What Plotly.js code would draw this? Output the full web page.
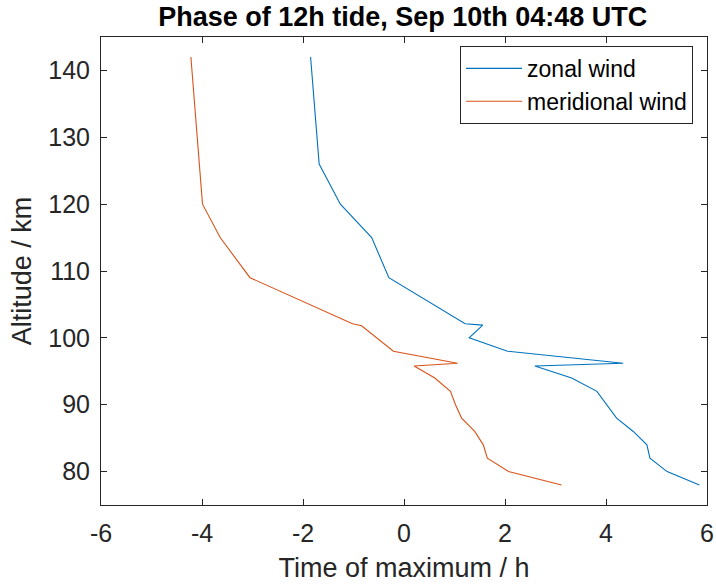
<!DOCTYPE html>
<html>
<head>
<meta charset="utf-8">
<script src="https://cdn.plot.ly/plotly-3.0.1.min.js"></script>
<style>html,body{margin:0;padding:0;background:#fff;}#chart{width:716px;height:584px;}</style>
</head>
<body>
<div id="chart"></div>
<script>
var zonalAlt   = [142, 126, 120, 115, 109, 102.1, 101.9, 100, 98, 96.2, 95.8, 94, 92, 90, 88, 86, 84, 82, 80, 78];
var zonalPhase = [-1.85, -1.68, -1.26, -0.64, -0.30, 1.21, 1.56, 1.29, 2.05, 4.34, 2.59, 3.32, 3.82, 4.02, 4.21, 4.54, 4.81, 4.87, 5.21, 5.85];
var meridAlt   = [142, 126, 120, 115, 109, 102.1, 101.8, 98, 96.2, 95.8, 94, 92, 90, 88, 86, 84, 82, 80, 78];
var meridPhase = [-4.22, -4.06, -3.99, -3.64, -3.05, -1.02, -0.84, -0.21, 1.06, 0.20, 0.61, 0.92, 1.02, 1.14, 1.40, 1.57, 1.65, 2.07, 3.12];
var xTicks = [-6, -4, -2, 0, 2, 4, 6];
var yTicks = [80, 90, 100, 110, 120, 130, 140];

var font = 'Liberation Sans, Arial, Helvetica, sans-serif';
var traces = [
  {x: zonalPhase, y: zonalAlt, mode: 'lines', name: 'zonal wind',
   line: {color: '#0072BD', width: 1.1}},
  {x: meridPhase, y: meridAlt, mode: 'lines', name: 'meridional wind',
   line: {color: '#D95319', width: 1.1}}
];
var axisCommon = {
  showgrid: false, zeroline: false, showline: true, mirror: 'ticks',
  linecolor: '#262626', linewidth: 1, ticks: 'inside', ticklen: 6,
  tickcolor: '#262626', tickfont: {family: font, size: 25, color: '#262626'}
};
var layout = {
  width: 716, height: 584,
  margin: {l: 101, r: 9, t: 37, b: 79},
  paper_bgcolor: '#fff', plot_bgcolor: '#fff',
  title: {text: '<b>Phase of 12h tide, Sep 10th 04:48 UTC</b>',
          font: {family: font, size: 27, color: '#000'},
          x: 0.5625, xanchor: 'center', y: 0.972, yanchor: 'middle'},
  xaxis: Object.assign({}, axisCommon, {
    range: [-6, 6], tickvals: xTicks, ticktext: xTicks.map(String),
    ticklabelstandoff: 6,
    title: {text: 'Time of maximum / h', font: {family: font, size: 27, color: '#262626'}, standoff: 12}
  }),
  yaxis: Object.assign({}, axisCommon, {
    range: [75, 145], tickvals: yTicks, ticktext: yTicks.map(String),
    ticklabelstandoff: 5,
    title: {text: 'Altitude / km', font: {family: font, size: 27, color: '#262626'}, standoff: 8}
  }),
  showlegend: true,
  legend: {x: 0.977, xanchor: 'right', y: 0.981, yanchor: 'top',
           bgcolor: '#fff', bordercolor: '#262626', borderwidth: 1,
           itemwidth: 56,
           font: {family: font, size: 23, color: '#000'}, tracegroupgap: 0}
};
Plotly.newPlot('chart', traces, layout, {staticPlot: true}).then(function (gd) {
  gd.querySelectorAll('.legend .legendlines path').forEach(function (p) {
    p.setAttribute('d', 'M5,0h56');
  });
});
</script>
</body>
</html>
